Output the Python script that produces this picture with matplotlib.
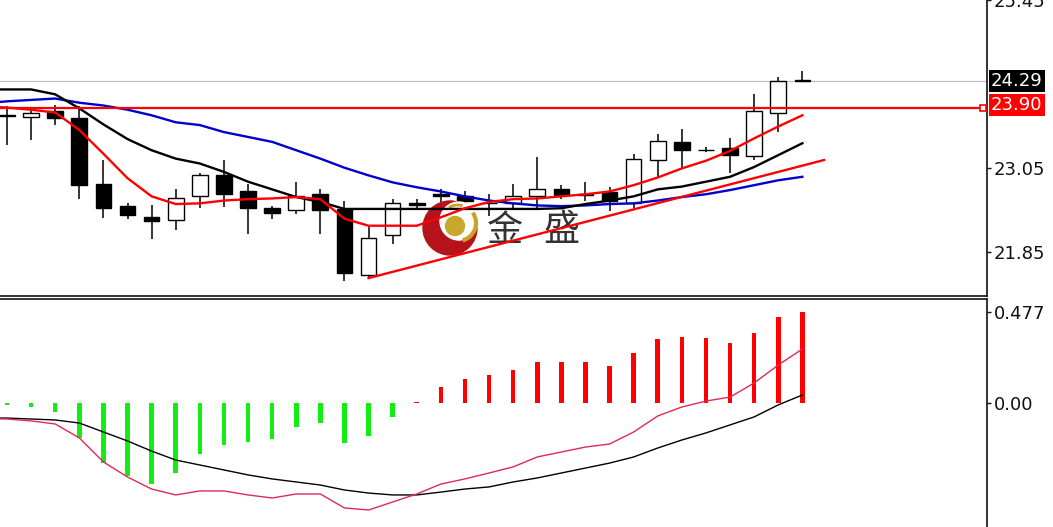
import numpy as np
import matplotlib
matplotlib.use("Agg")
import matplotlib.pyplot as plt
from matplotlib.patches import Circle, Arc, Rectangle
from matplotlib.transforms import IdentityTransform, blended_transform_factory

# daily candles, oldest first
opens = [23.80, 23.78, 23.86, 23.76, 22.82, 22.50, 22.34, 22.30, 22.64, 22.95,
         22.71, 22.47, 22.44, 22.68, 22.46, 21.51, 22.08, 22.54, 22.68, 22.64,
         22.55, 22.54, 22.64, 22.75, 22.67, 22.70, 22.54, 23.16, 23.42, 23.31,
         23.33, 23.22, 23.83, 24.30]
highs = [23.94, 23.90, 23.95, 23.94, 23.16, 22.54, 22.51, 22.74, 22.97, 23.16,
         22.81, 22.50, 22.84, 22.74, 22.57, 22.20, 22.60, 22.60, 22.74, 22.71,
         22.68, 22.82, 23.21, 22.80, 22.85, 22.78, 23.25, 23.53, 23.60, 23.35,
         23.47, 24.11, 24.35, 24.43]
lows = [23.38, 23.45, 23.66, 22.60, 22.33, 22.32, 22.03, 22.16, 22.47, 22.49,
        22.10, 22.32, 22.39, 22.10, 21.43, 21.47, 21.96, 22.46, 22.47, 22.36,
        22.36, 22.46, 22.46, 22.60, 22.57, 22.43, 22.47, 22.90, 23.04, 23.28,
        22.97, 23.16, 23.56, 24.28]
closes = [23.79, 23.83, 23.76, 22.80, 22.47, 22.37, 22.29, 22.61, 22.95, 22.68,
          22.47, 22.40, 22.64, 22.44, 21.54, 22.05, 22.54, 22.51, 22.64, 22.57,
          22.54, 22.64, 22.75, 22.66, 22.66, 22.57, 23.18, 23.43, 23.30, 23.30,
          23.23, 23.86, 24.29, 24.29]

# moving averages, first value belongs to the bar just left of the window
ma_fast = [23.93, 23.91, 23.88, 23.84, 23.59, 23.25, 22.90, 22.64, 22.53, 22.54,
           22.58, 22.60, 22.61, 22.63, 22.60, 22.32, 22.22, 22.22, 22.22, 22.34,
           22.47, 22.56, 22.60, 22.61, 22.64, 22.67, 22.71, 22.80, 22.91, 23.04,
           23.15, 23.29, 23.47, 23.64, 23.80]
ma_mid = [24.17, 24.17, 24.17, 24.10, 23.90, 23.67, 23.46, 23.30, 23.18, 23.11,
          22.99, 22.85, 22.74, 22.63, 22.56, 22.46, 22.46, 22.46, 22.46, 22.46,
          22.46, 22.46, 22.46, 22.46, 22.47, 22.53, 22.58, 22.64, 22.74, 22.78,
          22.85, 22.92, 23.06, 23.23, 23.40]
ma_slow = [23.97, 24.00, 24.02, 24.04, 23.98, 23.94, 23.88, 23.80, 23.70, 23.66,
           23.56, 23.49, 23.42, 23.30, 23.18, 23.05, 22.94, 22.84, 22.77, 22.71,
           22.64, 22.58, 22.54, 22.51, 22.50, 22.51, 22.53, 22.54, 22.58, 22.63,
           22.67, 22.73, 22.80, 22.87, 22.92]

# MACD panel
macd_hist = [-0.010, -0.021, -0.047, -0.183, -0.315, -0.383, -0.425, -0.367, -0.267, -0.220,
             -0.204, -0.189, -0.126, -0.105, -0.210, -0.173, -0.073, 0.005, 0.084, 0.126,
             0.147, 0.173, 0.215, 0.215, 0.215, 0.194, 0.262, 0.335, 0.346, 0.341,
             0.315, 0.367, 0.451, 0.477]
macd_line = [-0.082, -0.084, -0.094, -0.110, -0.183, -0.309, -0.388, -0.451, -0.482, -0.461,
             -0.461, -0.482, -0.498, -0.477, -0.477, -0.550, -0.561, -0.519, -0.477, -0.425,
             -0.398, -0.367, -0.335, -0.283, -0.257, -0.231, -0.215, -0.152, -0.068, -0.021,
             0.010, 0.031, 0.105, 0.199, 0.283]
macd_signal = [-0.079, -0.079, -0.084, -0.089, -0.105, -0.152, -0.199, -0.252, -0.299, -0.325,
               -0.351, -0.377, -0.398, -0.414, -0.430, -0.456, -0.472, -0.482, -0.482, -0.467,
               -0.451, -0.440, -0.414, -0.393, -0.367, -0.341, -0.315, -0.283, -0.236, -0.194,
               -0.157, -0.115, -0.073, -0.010, 0.042]

trend_idx = [15, 33.9]
trend_price = [21.47, 23.16]

resistance = 23.90
last_price = 24.29
price_ticks = [21.85, 23.05, 25.45]
macd_ticks = [0.0, 0.477]
macd_tick_labels = ["0.00", "0.477"]

W, H = 1053, 527
fig = plt.figure(figsize=(W / 100, H / 100), dpi=100)
ax1 = fig.add_axes([0, (H - 296) / H, 987 / W, 296 / H])
ax2 = fig.add_axes([0, 0, 987 / W, (H - 299) / H])

n = len(opens)
idx = np.arange(n)
line_idx = np.arange(-1, n)
body_w = 0.65

for ax in (ax1, ax2):
    ax.set_xlim(-0.29, 40.66)
    ax.set_xticks([])
    ax.spines['left'].set_visible(False)
    ax.yaxis.tick_right()
    ax.tick_params(axis='y', direction='out', length=3, width=1, labelsize=13,
                   pad=2, colors='#111111')
    for s in ax.spines.values():
        s.set_linewidth(1.2)
        s.set_color('#111111')
ax1.spines['top'].set_visible(False)
ax2.spines['bottom'].set_visible(False)

# ---- price panel ----
ax1.set_ylim(21.214, 25.395)
ax1.set_yticks(price_ticks)
ax1.set_yticklabels([f"{t:.2f}" for t in price_ticks])

ax1.axhline(last_price, color='#c0c0c0', lw=0.9, zorder=1)
ax1.axhline(resistance, color='#ff0000', lw=1.6, zorder=4)
ax1.plot([0.996], [resistance], marker='s', ms=4, mfc='white', mec='#ff0000', mew=1.2,
         transform=blended_transform_factory(ax1.transAxes, ax1.transData),
         clip_on=False, zorder=5)

for i in idx:
    o, h, l, c = opens[i], highs[i], lows[i], closes[i]
    ax1.vlines(i, l, h, color='black', lw=1.1, zorder=2)
    face = 'white' if c > o else 'black'
    ax1.add_patch(Rectangle((i - body_w / 2, min(o, c)), body_w, abs(c - o),
                            facecolor=face, edgecolor='black', lw=1.0, zorder=2.1))

# watermark logo
pix = IdentityTransform()
ax1.add_patch(Circle((450, H - 228), 27, color='#b5121b', transform=pix, zorder=2.5))
ax1.add_patch(Circle((459, H - 221), 19, color='white', transform=pix, zorder=2.51))
ax1.add_patch(Arc((458, H - 223), 36, 36, theta1=-75, theta2=35, color='#c9a227', lw=3,
                  transform=pix, zorder=2.52))
ax1.add_patch(Arc((458, H - 223), 36, 36, theta1=75, theta2=120, color='#c9a227', lw=2,
                  transform=pix, zorder=2.52))
ax1.add_patch(Circle((455, H - 226), 9.5, color='#c8a82c', transform=pix, zorder=2.53))
ax1.text(505, H - 231, "金", transform=pix, fontsize=26, color='#333333', ha='center',
         va='center', family=['Noto Sans CJK SC', 'DejaVu Sans'], zorder=2.6)
ax1.text(561, H - 230, "盛", transform=pix, fontsize=26, color='#333333', ha='center',
         va='center', family=['Noto Sans CJK SC', 'DejaVu Sans'], zorder=2.6)

ax1.plot(line_idx, ma_slow, color='#0000cc', lw=1.7, zorder=3)
ax1.plot(line_idx, ma_mid, color='black', lw=1.7, zorder=3)
ax1.plot(line_idx, ma_fast, color='#ff0000', lw=1.7, zorder=3.2)
ax1.plot(trend_idx, trend_price, color='#ff0000', lw=1.7, zorder=3.2)

blend1 = blended_transform_factory(ax1.transAxes, ax1.transData)
ax1.text(1.004, last_price, f"{last_price:.2f}", transform=blend1, color='white',
         fontsize=13, ha='left', va='center', clip_on=False, zorder=6,
         bbox=dict(boxstyle='square,pad=0.12', fc='black', ec='none'))
ax1.text(1.004, resistance + 0.05, f"{resistance:.2f}", transform=blend1, color='white',
         fontsize=13, ha='left', va='center', clip_on=False, zorder=6,
         bbox=dict(boxstyle='square,pad=0.12', fc='#ff0000', ec='none'))

# ---- MACD panel ----
ax2.set_ylim(-0.650, 0.545)
ax2.set_yticks(macd_ticks)
ax2.set_yticklabels(macd_tick_labels)

hist = np.array(macd_hist)
bar_colors = np.where(hist >= 0, '#ff0000', '#11ee11')
ax2.bar(idx, hist, width=0.19, color=bar_colors, zorder=2)
ax2.plot(line_idx, macd_signal, color='black', lw=1.0, zorder=3)
ax2.plot(line_idx, macd_line, color='#dc2a5a', lw=1.0, zorder=3)

fig.savefig("out.png", dpi=100)
